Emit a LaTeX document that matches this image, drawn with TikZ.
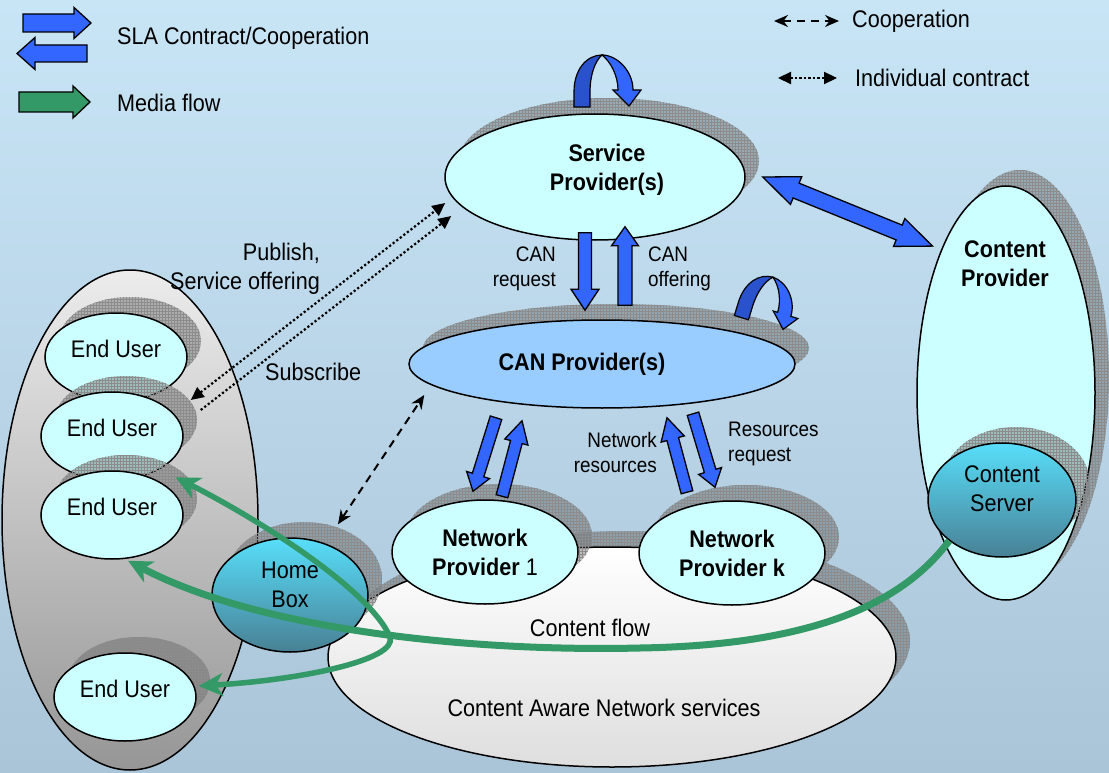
\documentclass[tikz,border=0pt]{standalone}
\usepackage{fontspec}
\setmainfont{Liberation Sans}[FakeStretch=0.9]
\usepackage{xcolor}
\usetikzlibrary{calc}
\usetikzlibrary{shapes,arrows.meta,shadows,patterns}
\definecolor{bgtop}{RGB}{200,229,246}
\definecolor{bgbot}{RGB}{170,197,216}
\definecolor{lcyan}{RGB}{204,255,255}
\definecolor{canblue}{RGB}{153,204,255}
\definecolor{slablue}{RGB}{51,102,255}
\definecolor{sladark}{RGB}{42,82,205}
\definecolor{mgreen}{RGB}{51,153,102}
\definecolor{boxtop}{RGB}{88,222,250}
\definecolor{boxbot}{RGB}{72,128,148}
\definecolor{grptop}{RGB}{236,236,236}
\definecolor{grpbot}{RGB}{150,150,150}
\definecolor{svcbot}{RGB}{222,222,222}
\tikzstyle{txt}=[font=\fontsize{24}{29}\selectfont, align=center, inner sep=0pt]
\tikzstyle{btxt}=[txt, font=\fontsize{24}{29}\selectfont\bfseries]
\tikzstyle{stxt}=[font=\fontsize{21}{25}\selectfont, inner sep=0pt]
\tikzstyle{el}=[ellipse, draw, line width=1.5pt, inner sep=0pt,
  general shadow={fill=gray!70!black, fill opacity=0.4, shadow xshift=14pt, shadow yshift=16pt},
  general shadow={pattern=grid, pattern color=black!45, shadow xshift=14pt, shadow yshift=16pt}]
\tikzstyle{eu}=[el, txt, fill=lcyan, minimum width=142pt, minimum height=88pt, text depth=16pt]
\tikzstyle{np}=[el, btxt, fill=lcyan, minimum width=186pt, minimum height=104pt]
\tikzstyle{grad}=[el, txt, top color=boxtop, bottom color=boxbot]
\tikzstyle{sla}=[draw, line width=1.3pt, fill=slablue]
\tikzstyle{mblock}=[draw, line width=1.3pt, fill=mgreen]
\tikzstyle{mflow}=[draw=mgreen, line width=7pt, >={Stealth[length=24pt,width=23pt,inset=7pt]}, ->]
\tikzstyle{coop}=[line width=2pt, dash pattern=on 8pt off 6pt, >={Stealth[length=14pt,width=12pt]}]
\tikzstyle{indiv}=[line width=2.2pt, dash pattern=on 2.2pt off 2.3pt, >={Triangle[length=13pt,width=12pt]}]
% block arrows: style, shaft/head/headlength, from, to
\newcommand{\blockarrow}[4]{%
  \foreach \sw/\hw/\hl in {#2}
  \draw[#1] let \p1=(#3), \p2=(#4), \n1={atan2(\y2-\y1,\x2-\x1)}, \n2={veclen(\x2-\x1,\y2-\y1)} in
    [shift={(\p1)}, rotate=\n1] (0,-\sw) -- (\n2-\hl,-\sw) -- (\n2-\hl,-\hw) -- (\n2,0)
    -- (\n2-\hl,\hw) -- (\n2-\hl,\sw) -- (0,\sw) -- cycle;}
\newcommand{\blockdouble}[4]{%
  \foreach \sw/\hw/\hl in {#2}
  \draw[#1] let \p1=(#3), \p2=(#4), \n1={atan2(\y2-\y1,\x2-\x1)}, \n2={veclen(\x2-\x1,\y2-\y1)} in
    [shift={(\p1)}, rotate=\n1] (0,0) -- (\hl,-\hw) -- (\hl,-\sw) -- (\n2-\hl,-\sw) -- (\n2-\hl,-\hw) -- (\n2,0)
    -- (\n2-\hl,\hw) -- (\n2-\hl,\sw) -- (\hl,\sw) -- (\hl,\hw) -- cycle;}
\tikzset{selfsla/.pic={
  \draw[fill=sladark, line width=1.2pt] (-28,0) -- (-28,-15) .. controls (-28,-38) and (-15,-52) .. (0,-52)
    .. controls (-7,-46) and (-12,-32) .. (-12,-15) -- (-12,0) -- cycle;
  \draw[fill=slablue, line width=1.2pt] (0,-52) .. controls (15,-52) and (31,-36) .. (31,-17) -- (39,-17)
    -- (27,-1) -- (11,-17) -- (16,-17) .. controls (16,-31) and (9,-45) .. (0,-52) -- cycle;
}}
\begin{document}
\begin{tikzpicture}[x=1pt, y=-1pt]
\useasboundingbox (0,0) rectangle (1109,773);
\shade[top color=bgtop, bottom color=bgbot] (0,0) rectangle (1109,773);

% legend
\node[txt, anchor=west] (slatxt) at (117,38.5) {SLA Contract/Cooperation};
\node[txt, anchor=west] (mediatxt) at (117,103) {Media flow};
\node[txt, anchor=west] (cooptxt) at (852,21.5) {Cooperation};
\node[txt, anchor=west] (indivtxt) at (855,78) {Individual contract};
\blockarrow{sla}{9/15.5/17}{$(slatxt.west)+(-94,-15.5)$}{$(slatxt.west)+(-26,-15.5)$}
\blockarrow{sla}{8.5/16/18}{$(slatxt.west)+(-30,15)$}{$(slatxt.west)+(-100,15)$}
\blockarrow{mblock}{10/16/17}{$(mediatxt.west)+(-98,-1)$}{$(mediatxt.west)+(-27,-1)$}
\draw[coop, <->] ($(cooptxt.west)+(-78,-0.5)$) -- ($(cooptxt.west)+(-13,-0.5)$);
\draw[indiv, <->] ($(indivtxt.west)+(-77,0)$) -- ($(indivtxt.west)+(-18,0)$);

% end users
\node[ellipse, draw, line width=1.5pt, minimum width=256pt, minimum height=500pt, top color=grptop, bottom color=grpbot] (grp) at (130,520) {};
\node[eu] (eu1) at (116,357) {End User};
\node[eu] (eu2) at (112,436) {End User};
\node[eu] (eu3) at (112,515) {End User};
\node[eu] (eu4) at (125,697) {End User};

% network side
\node[el, minimum width=568pt, minimum height=220pt, top color=white, bottom color=svcbot] (cans) at (612,657) {};
\node[txt] (flowtxt) at (590,628) {Content flow};
\node[txt] (cantxt) at (604,708) {Content Aware Network services};
\node[np] (np1) at (485,552) {Network\\Provider {\mdseries 1}};
\node[np] (npk) at (732,553) {Network\\Provider k};
\node[grad, minimum width=156pt, minimum height=114pt, text depth=20pt] (hb) at (290,595) {Home\\Box};

% providers
\node[el, btxt, fill=lcyan, minimum width=300pt, minimum height=126pt, text depth=19pt] (sp) at (595,177) {\hspace*{24pt}Service\\\hspace*{24pt}Provider(s)};
\node[el, btxt, fill=canblue, minimum width=386pt, minimum height=88pt] (canp) at (602,364) {CAN Provider(s)\hspace*{40pt}};
\node[el, fill=lcyan, minimum width=178pt, minimum height=414pt] (cp) at (1006,393) {};
\node[btxt] (cptxt) at (1005,264) {Content\\Provider};
\node[grad, minimum width=148pt, minimum height=114pt, text depth=23pt] (cs) at (1002,500) {Content\\Server};

% sla arrows
\pic at (602,107) {selfsla};
\pic[rotate=-17, scale=0.92] at (759,323) {selfsla};
\blockarrow{sla}{6.5/14/21}{$(sp.south)+(-10,-8)$}{$(canp.north)+(-17,-9)$}
\blockarrow{sla}{7/13.5/19}{$(canp.north)+(23,-14)$}{$(sp.south)+(30,-14)$}
\blockarrow{sla}{6/12/17}{$(canp.south)+(-106,9)$}{$(np1.north)+(-12,-8)$}
\blockarrow{sla}{6/12/22}{$(np1.north)+(17,-3)$}{$(canp.south)+(-80,12)$}
\blockarrow{sla}{6/12/22}{$(npk.north)+(-45,-8)$}{$(canp.south)+(65,9)$}
\blockarrow{sla}{6/12/17}{$(canp.south)+(91,5)$}{$(npk.north)+(-17,-13)$}
\blockdouble{sla}{8/15/36}{$(sp.east)+(17,0)$}{$(cp.north west)+(-10,0)$}
\node[stxt, align=right, anchor=east] (reqtxt) at (556,269) {CAN\\request};
\node[stxt, align=left, anchor=west] (offtxt) at (648,269) {CAN\\offering};
\node[stxt, align=right, anchor=east] (nrtxt) at (657,452) {Network\\resources};
\node[stxt, align=left, anchor=west] (rrtxt) at (728,444) {Resources\\request};

% contracts and cooperation
\draw[indiv, <->] ($(eu2.east)+(7,-36)$) -- ($(sp.west)+(1,26)$);
\draw[indiv, ->] ($(eu2.east)+(17,-26)$) -- ($(sp.west)+(7,39)$);
\node[txt, align=right, anchor=east] (pubtxt) at (320,269) {Publish,\\Service offering};
\node[txt, anchor=west] (subtxt) at (265,372) {Subscribe};
\draw[coop, <->] ($(hb.north)+(48,-13)$) -- ($(canp.west)+(16,31)$);

% media flow
\draw[mflow] (cs.south west) .. controls (905,600) and (820,645) .. (640,648)
  .. controls (470,652) and (260,630) .. ($(eu3.south)+(16,1)$);
\draw[mflow, line width=5.5pt, <->] ($(eu3.north east)+(13,-6)$) .. controls (260,520) and (370,590) .. (390,637)
  .. controls (398,660) and (300,680) .. ($(eu4.east)+(2,-11)$);
\end{tikzpicture}
\end{document}
